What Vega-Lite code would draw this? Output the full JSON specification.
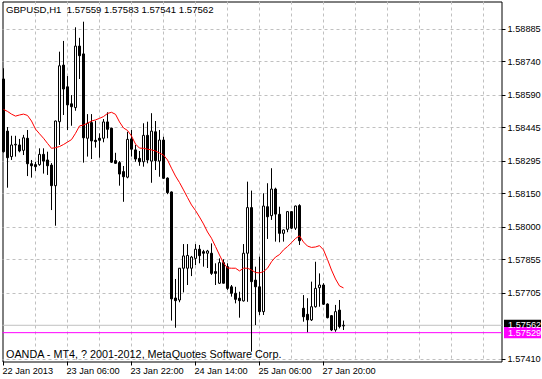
{
  "$schema": "https://vega.github.io/schema/vega-lite/v6.json",
  "width": 499,
  "height": 360,
  "autosize": {"type": "none"},
  "padding": {"left": 2.5, "top": 1.5, "right": 40.5, "bottom": 17.5},
  "background": "white",
  "config": {
    "view": {"stroke": "black", "strokeWidth": 1},
    "axis": {"translate": 0},
    "scale": {"continuousPadding": 0}
  },
  "datasets": {
    "bars": [
      {"i":0,"o":1.58663,"h":1.58711,"l":1.58334,"c":1.58338,"ma":1.58527},
      {"i":1,"o":1.58430,"h":1.58448,"l":1.58177,"c":1.58311,"ma":1.58518},
      {"i":2,"o":1.58316,"h":1.58409,"l":1.58301,"c":1.58368,"ma":1.58506},
      {"i":3,"o":1.58368,"h":1.58409,"l":1.58316,"c":1.58371,"ma":1.58497},
      {"i":4,"o":1.58368,"h":1.58395,"l":1.58335,"c":1.58341,"ma":1.58502},
      {"i":5,"o":1.58344,"h":1.58413,"l":1.58323,"c":1.58400,"ma":1.58506},
      {"i":6,"o":1.58398,"h":1.58435,"l":1.58229,"c":1.58284,"ma":1.58500},
      {"i":7,"o":1.58284,"h":1.58301,"l":1.58222,"c":1.58275,"ma":1.58475},
      {"i":8,"o":1.58280,"h":1.58293,"l":1.58252,"c":1.58271,"ma":1.58439},
      {"i":9,"o":1.58280,"h":1.58353,"l":1.58275,"c":1.58326,"ma":1.58418},
      {"i":10,"o":1.58326,"h":1.58353,"l":1.58240,"c":1.58296,"ma":1.58398},
      {"i":11,"o":1.58301,"h":1.58338,"l":1.58234,"c":1.58275,"ma":1.58375},
      {"i":12,"o":1.58278,"h":1.58287,"l":1.58077,"c":1.58186,"ma":1.58353},
      {"i":13,"o":1.58186,"h":1.58477,"l":1.58007,"c":1.58475,"ma":1.58356},
      {"i":14,"o":1.58472,"h":1.58785,"l":1.58368,"c":1.58722,"ma":1.58361},
      {"i":15,"o":1.58725,"h":1.58833,"l":1.58502,"c":1.58618,"ma":1.58370},
      {"i":16,"o":1.58628,"h":1.58676,"l":1.58435,"c":1.58547,"ma":1.58381},
      {"i":17,"o":1.58552,"h":1.58591,"l":1.58454,"c":1.58539,"ma":1.58392},
      {"i":18,"o":1.58535,"h":1.58894,"l":1.58521,"c":1.58810,"ma":1.58420},
      {"i":19,"o":1.58810,"h":1.58847,"l":1.58663,"c":1.58767,"ma":1.58453},
      {"i":20,"o":1.58775,"h":1.58919,"l":1.58289,"c":1.58400,"ma":1.58457},
      {"i":21,"o":1.58398,"h":1.58506,"l":1.58316,"c":1.58465,"ma":1.58465},
      {"i":22,"o":1.58468,"h":1.58506,"l":1.58305,"c":1.58386,"ma":1.58475},
      {"i":23,"o":1.58389,"h":1.58476,"l":1.58356,"c":1.58383,"ma":1.58480},
      {"i":24,"o":1.58398,"h":1.58420,"l":1.58311,"c":1.58389,"ma":1.58487},
      {"i":25,"o":1.58398,"h":1.58484,"l":1.58380,"c":1.58471,"ma":1.58495},
      {"i":26,"o":1.58471,"h":1.58514,"l":1.58398,"c":1.58438,"ma":1.58509},
      {"i":27,"o":1.58443,"h":1.58445,"l":1.58288,"c":1.58291,"ma":1.58514},
      {"i":28,"o":1.58298,"h":1.58333,"l":1.58284,"c":1.58286,"ma":1.58505},
      {"i":29,"o":1.58289,"h":1.58296,"l":1.58186,"c":1.58238,"ma":1.58471},
      {"i":30,"o":1.58249,"h":1.58274,"l":1.58114,"c":1.58226,"ma":1.58444},
      {"i":31,"o":1.58224,"h":1.58427,"l":1.58219,"c":1.58393,"ma":1.58433},
      {"i":32,"o":1.58395,"h":1.58435,"l":1.58316,"c":1.58349,"ma":1.58408},
      {"i":33,"o":1.58346,"h":1.58368,"l":1.58293,"c":1.58305,"ma":1.58372},
      {"i":34,"o":1.58308,"h":1.58341,"l":1.58275,"c":1.58293,"ma":1.58354},
      {"i":35,"o":1.58293,"h":1.58465,"l":1.58271,"c":1.58411,"ma":1.58353},
      {"i":36,"o":1.58411,"h":1.58472,"l":1.58286,"c":1.58301,"ma":1.58349},
      {"i":37,"o":1.58296,"h":1.58510,"l":1.58199,"c":1.58430,"ma":1.58346},
      {"i":38,"o":1.58427,"h":1.58475,"l":1.58256,"c":1.58298,"ma":1.58341},
      {"i":39,"o":1.58296,"h":1.58435,"l":1.58226,"c":1.58390,"ma":1.58332},
      {"i":40,"o":1.58390,"h":1.58405,"l":1.58217,"c":1.58219,"ma":1.58323},
      {"i":41,"o":1.58220,"h":1.58223,"l":1.58148,"c":1.58155,"ma":1.58301},
      {"i":42,"o":1.58158,"h":1.58160,"l":1.57583,"c":1.57680,"ma":1.58264},
      {"i":43,"o":1.57684,"h":1.57769,"l":1.57551,"c":1.57672,"ma":1.58229},
      {"i":44,"o":1.57675,"h":1.57818,"l":1.57665,"c":1.57817,"ma":1.58200},
      {"i":45,"o":1.57817,"h":1.57925,"l":1.57709,"c":1.57872,"ma":1.58167},
      {"i":46,"o":1.57817,"h":1.57925,"l":1.57742,"c":1.57874,"ma":1.58133},
      {"i":47,"o":1.57817,"h":1.57872,"l":1.57782,"c":1.57867,"ma":1.58100},
      {"i":48,"o":1.57861,"h":1.57925,"l":1.57831,"c":1.57902,"ma":1.58075},
      {"i":49,"o":1.57902,"h":1.57921,"l":1.57839,"c":1.57873,"ma":1.58046},
      {"i":50,"o":1.57891,"h":1.57899,"l":1.57824,"c":1.57884,"ma":1.58015},
      {"i":51,"o":1.57884,"h":1.57899,"l":1.57818,"c":1.57894,"ma":1.57979},
      {"i":52,"o":1.57884,"h":1.57928,"l":1.57787,"c":1.57794,"ma":1.57951},
      {"i":53,"o":1.57802,"h":1.57839,"l":1.57742,"c":1.57794,"ma":1.57914},
      {"i":54,"o":1.57750,"h":1.57861,"l":1.57747,"c":1.57842,"ma":1.57876},
      {"i":55,"o":1.57842,"h":1.57857,"l":1.57749,"c":1.57750,"ma":1.57840},
      {"i":56,"o":1.57824,"h":1.57839,"l":1.57720,"c":1.57727,"ma":1.57818},
      {"i":57,"o":1.57734,"h":1.57742,"l":1.57690,"c":1.57705,"ma":1.57817},
      {"i":58,"o":1.57705,"h":1.57734,"l":1.57660,"c":1.57678,"ma":1.57817},
      {"i":59,"o":1.57683,"h":1.57712,"l":1.57596,"c":1.57672,"ma":1.57805},
      {"i":60,"o":1.57671,"h":1.57925,"l":1.57668,"c":1.57884,"ma":1.57817},
      {"i":61,"o":1.57884,"h":1.58204,"l":1.57667,"c":1.58088,"ma":1.57817},
      {"i":62,"o":1.58088,"h":1.58164,"l":1.57444,"c":1.57757,"ma":1.57809},
      {"i":63,"o":1.57764,"h":1.57824,"l":1.57563,"c":1.57734,"ma":1.57798},
      {"i":64,"o":1.57734,"h":1.57869,"l":1.57608,"c":1.57623,"ma":1.57796},
      {"i":65,"o":1.57623,"h":1.58152,"l":1.57608,"c":1.58095,"ma":1.57802},
      {"i":66,"o":1.58092,"h":1.58197,"l":1.57948,"c":1.58047,"ma":1.57817},
      {"i":67,"o":1.58052,"h":1.58264,"l":1.58033,"c":1.58171,"ma":1.57846},
      {"i":68,"o":1.58171,"h":1.58177,"l":1.57936,"c":1.58059,"ma":1.57867},
      {"i":69,"o":1.58058,"h":1.58092,"l":1.57933,"c":1.57973,"ma":1.57878},
      {"i":70,"o":1.57973,"h":1.57990,"l":1.57936,"c":1.57988,"ma":1.57899},
      {"i":71,"o":1.57991,"h":1.58071,"l":1.57978,"c":1.58070,"ma":1.57914},
      {"i":72,"o":1.58070,"h":1.58071,"l":1.57992,"c":1.57996,"ma":1.57931},
      {"i":73,"o":1.57996,"h":1.58097,"l":1.57988,"c":1.58095,"ma":1.57950},
      {"i":74,"o":1.58097,"h":1.58103,"l":1.57921,"c":1.57940,"ma":1.57962},
      {"i":75,"o":1.57638,"h":1.57697,"l":1.57578,"c":1.57600,"ma":1.57934},
      {"i":76,"o":1.57611,"h":1.57683,"l":1.57531,"c":1.57586,"ma":1.57916},
      {"i":77,"o":1.57586,"h":1.57757,"l":1.57581,"c":1.57645,"ma":1.57910},
      {"i":78,"o":1.57645,"h":1.57846,"l":1.57641,"c":1.57727,"ma":1.57912},
      {"i":79,"o":1.57730,"h":1.57794,"l":1.57645,"c":1.57742,"ma":1.57918},
      {"i":80,"o":1.57742,"h":1.57750,"l":1.57653,"c":1.57656,"ma":1.57899},
      {"i":81,"o":1.57657,"h":1.57660,"l":1.57593,"c":1.57596,"ma":1.57856},
      {"i":82,"o":1.57605,"h":1.57608,"l":1.57536,"c":1.57541,"ma":1.57809},
      {"i":83,"o":1.57541,"h":1.57653,"l":1.57533,"c":1.57623,"ma":1.57769},
      {"i":84,"o":1.57630,"h":1.57675,"l":1.57548,"c":1.57556,"ma":1.57738},
      {"i":85,"o":1.57559,"h":1.57583,"l":1.57541,"c":1.57562,"ma":1.57729}
    ],
    "tags": [
      {"price": 1.57562, "kind": "bid"},
      {"price": 1.57529, "kind": "ask"}
    ]
  },
  "layer": [
    {
      "data": {"name": "tags"},
      "mark": {"type": "rule", "strokeWidth": 1},
      "encoding": {
        "y": {
          "field": "price", "type": "quantitative",
          "scale": {"domain": [1.57400095, 1.59009295], "nice": false, "zero": false, "padding": 0},
          "axis": {
            "orient": "right", "title": null, "domain": false, "tickCount": 40,
            "values": [1.58885, 1.5874, 1.5859, 1.58445, 1.58295, 1.5815, 1.58, 1.57855, 1.57705, 1.5741],
            "format": ".5f",
            "grid": true, "gridColor": "#C0C0C0", "gridDash": [3, 3], "gridWidth": 1,
            "ticks": true, "tickColor": "black", "tickSize": 4, "tickWidth": 1,
            "labelFont": "Liberation Sans", "labelFontSize": 9.2, "labelColor": "black",
            "labelAlign": "left", "labelBaseline": "middle", "labelPadding": 2,
            "labelFlush": false, "labelOverlap": false, "labelBound": false
          }
        },
        "color": {
          "condition": {"test": "datum.kind == 'ask'", "value": "#FF00FF"},
          "value": "#C0C0C0"
        }
      }
    },
    {
      "data": {"name": "bars"},
      "mark": {"type": "rule", "color": "black", "strokeWidth": 1},
      "encoding": {
        "x": {
          "field": "i", "type": "quantitative",
          "scale": {"domain": [-0.25, 124.5], "nice": false, "zero": false, "padding": 0},
          "axis": {
            "title": null, "domain": false, "tickCount": 40,
            "values": [0, 8, 16, 24, 32, 40, 48, 56, 64, 72, 80, 88, 96, 104, 112, 120],
            "grid": true, "gridColor": "#C0C0C0", "gridDash": [3, 3], "gridWidth": 1,
            "gridOpacity": {"condition": {"test": "datum.value > 0", "value": 1}, "value": 0},
            "ticks": true, "tickColor": "black", "tickSize": 4, "tickWidth": 1,
            "tickOpacity": {"condition": {"test": "datum.value % 16 == 0 && datum.value <= 80", "value": 1}, "value": 0},
            "labelExpr": "datum.value == 0 ? '22 Jan 2013' : datum.value == 16 ? '23 Jan 06:00' : datum.value == 32 ? '23 Jan 22:00' : datum.value == 48 ? '24 Jan 14:00' : datum.value == 64 ? '25 Jan 06:00' : datum.value == 80 ? '27 Jan 20:00' : ''",
            "labelFont": "Liberation Sans", "labelFontSize": 9.2, "labelColor": "black",
            "labelAlign": "left", "labelBaseline": "top", "labelPadding": 1, "labelOffset": -1,
            "labelFlush": false, "labelOverlap": false, "labelBound": false
          }
        },
        "y": {"field": "l", "type": "quantitative", "scale": {"domain": [1.57400095, 1.59009295], "nice": false, "zero": false, "padding": 0}},
        "y2": {"field": "h"}
      }
    },
    {
      "data": {"name": "bars"},
      "mark": {"type": "bar", "width": 2, "stroke": "black", "strokeWidth": 1},
      "encoding": {
        "x": {"field": "i", "type": "quantitative"},
        "y": {"field": "o", "type": "quantitative"},
        "y2": {"field": "c"},
        "fill": {"condition": {"test": "datum.c >= datum.o", "value": "white"}, "value": "black"}
      }
    },
    {
      "data": {"name": "bars"},
      "mark": {"type": "line", "color": "#FF0000", "strokeWidth": 1},
      "encoding": {
        "x": {"field": "i", "type": "quantitative"},
        "y": {"field": "ma", "type": "quantitative"}
      }
    },
    {
      "data": {"name": "tags"},
      "mark": {"type": "point", "shape": "M-1,-0.3L1,-0.3L1,0.3L-1,0.3Z", "filled": true, "size": 1369, "opacity": 1, "strokeWidth": 0},
      "encoding": {
        "x": {"datum": 129.75, "type": "quantitative"},
        "y": {"field": "price", "type": "quantitative"},
        "color": {
          "condition": {"test": "datum.kind == 'ask'", "value": "#FF00FF"},
          "value": "#000000"
        }
      }
    },
    {
      "data": {"name": "tags"},
      "mark": {"type": "text", "align": "left", "baseline": "middle", "font": "Liberation Sans", "fontSize": 9.2, "color": "white"},
      "encoding": {
        "x": {"datum": 126.125, "type": "quantitative"},
        "y": {"field": "price", "type": "quantitative"},
        "text": {"field": "price", "type": "quantitative", "format": ".5f"}
      }
    },
    {
      "data": {"values": [{}]},
      "mark": {"type": "text", "align": "left", "baseline": "alphabetic", "font": "Liberation Sans", "fontSize": 9.6, "color": "black",
               "text": "GBPUSD,H1 \u00a01.57559 1.57583 1.57541 1.57562"},
      "encoding": {
        "x": {"datum": 0.625, "type": "quantitative"},
        "y": {"datum": 1.58956, "type": "quantitative"}
      }
    },
    {
      "data": {"values": [{}]},
      "mark": {"type": "text", "align": "left", "baseline": "alphabetic", "font": "Liberation Sans", "fontSize": 10.8, "color": "black",
               "text": "OANDA - MT4, ? 2001-2012, MetaQuotes Software Corp."},
      "encoding": {
        "x": {"datum": 0.625, "type": "quantitative"},
        "y": {"datum": 1.57414, "type": "quantitative"}
      }
    }
  ]
}
